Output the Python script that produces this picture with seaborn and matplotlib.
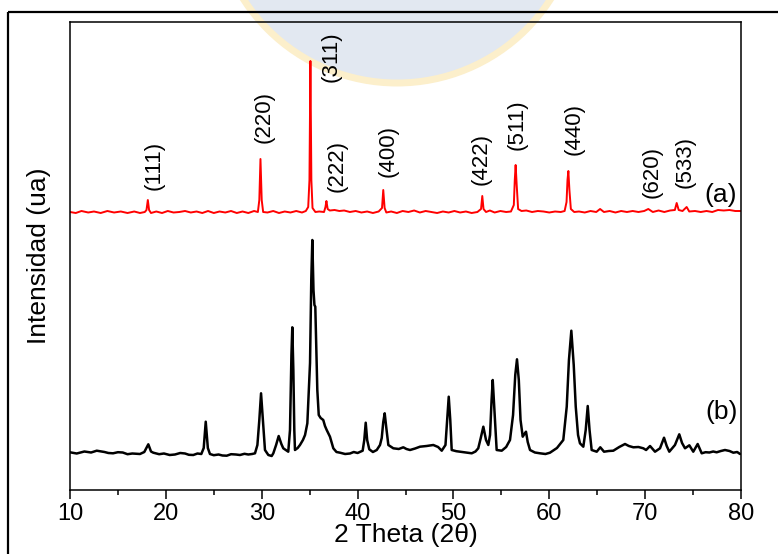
import matplotlib
matplotlib.use("Agg")
import matplotlib.pyplot as plt
from matplotlib.patches import Circle, Rectangle
import numpy as np
import pandas as pd
import seaborn as sns

# Pattern (a): 2-theta (deg) and intensity (a.u., offset upward)
two_theta_a = [10.0, 10.6, 11.2, 11.9, 12.5, 13.2, 13.9, 14.6, 15.3, 16.0, 16.7, 17.3, 17.8,
               17.98, 18.12, 18.25, 18.45, 19.0, 19.6, 20.2, 20.8, 21.4, 22.0, 22.6, 23.2,
               23.8, 24.4, 25.0, 25.6, 26.2, 26.8, 27.4, 28.0, 28.6, 29.2, 29.6, 29.75,
               29.87, 30.0, 30.15, 30.6, 31.2, 31.8, 32.4, 33.0, 33.6, 34.2, 34.6, 34.85,
               34.98, 35.08, 35.18, 35.3, 35.6, 36.0, 36.5, 36.65, 36.75, 36.88, 37.1, 37.6,
               38.1, 38.6, 39.2, 39.8, 40.4, 41.0, 41.6, 42.2, 42.55, 42.68, 42.82, 43.0,
               43.5, 44.1, 44.7, 45.3, 45.9, 46.5, 47.1, 47.7, 48.3, 48.9, 49.5, 50.1,
               50.7, 51.3, 51.9, 52.5, 52.88, 53.01, 53.14, 53.4, 53.8, 54.3, 54.9, 55.5,
               56.0, 56.3, 56.4, 56.49, 56.6, 56.75, 57.1, 57.6, 58.2, 58.8, 59.4, 60.0,
               60.6, 61.2, 61.6, 61.8, 61.9, 61.99, 62.1, 62.25, 62.6, 63.1, 63.7, 64.3,
               64.9, 65.3, 65.7, 66.3, 66.9, 67.5, 68.1, 68.7, 69.3, 69.9, 70.33, 70.8,
               71.4, 72.0, 72.6, 73.1, 73.29, 73.5, 73.9, 74.33, 74.6, 75.2, 75.8, 76.4,
               77.0, 77.6, 78.2, 78.8, 79.4, 80.0]
intensity_a = [278, 277, 279, 277.5, 278.5, 277, 279, 277.5, 278.5, 277, 278.5, 277, 278,
               280, 290, 280, 277, 278.5, 277, 279, 277.5, 278, 279, 277.5, 278.5,
               277, 279, 277, 278.5, 277.5, 279, 277, 278.5, 277, 279, 278, 290,
               331, 290, 278, 277.5, 279, 277, 278.5, 277.5, 279, 277.5, 279, 283,
               310, 429, 310, 282, 278, 278.5, 278, 283, 289, 281, 279.5, 280,
               279, 279.5, 278, 279, 277.5, 278.5, 277, 278.5, 282, 300, 282, 277.5,
               278.5, 277, 279, 278, 279.5, 277.5, 279, 278, 277, 278.5, 277.5, 279,
               277.5, 278.5, 277, 278, 281, 294, 281, 278, 279.5, 277.5, 279, 278,
               278.5, 285, 310, 325, 305, 281, 279, 279.5, 278, 279, 278.5, 277.5,
               278.5, 278, 279, 288, 310, 319, 300, 281, 278, 278.5, 277.5, 279,
               278, 281, 278, 279, 277.5, 279, 278, 279, 278, 279, 281, 278,
               279.5, 278, 279.5, 280, 287, 280, 279, 283, 278.5, 279, 278, 279,
               278, 280, 279.5, 280, 279, 279]

# Pattern (b): 2-theta (deg) and intensity (a.u.)
two_theta_b = [10.0, 10.7, 11.5, 12.2, 12.79, 13.6, 14.0, 14.49, 15.0, 15.5, 16.0, 16.5,
               17.3, 17.75, 18.17, 18.45, 18.69, 19.3, 19.8, 20.4, 20.95, 21.5, 22.0, 22.4,
               22.86, 23.3, 23.7, 23.95, 24.16, 24.38, 24.6, 25.0, 25.5, 25.9, 26.35, 26.8,
               27.3, 27.73, 28.2, 28.6, 29.0, 29.3, 29.55, 29.75, 29.93, 30.12, 30.34,
               30.69, 31.04, 31.21, 31.5, 31.77, 32.05, 32.25, 32.61, 32.77, 32.95, 33.1,
               33.19, 33.3, 33.4, 33.47, 33.75, 33.99, 34.3, 34.52, 34.76, 34.92, 35.04,
               35.17, 35.28, 35.4, 35.5, 35.59, 35.7, 35.8, 35.95, 36.15, 36.42, 36.6,
               36.78, 37.12, 37.47, 37.8, 38.17, 38.7, 39.21, 39.6, 40.0, 40.53, 40.7,
               40.85, 41.0, 41.22, 41.6, 42.0, 42.34, 42.52, 42.68, 42.83, 43.0, 43.21,
               43.73, 44.3, 44.77, 45.1, 45.47, 46.0, 46.51, 47.2, 47.9, 48.4, 48.78,
               49.17, 49.35, 49.51, 49.67, 49.82, 50.3, 50.69, 51.3, 51.91, 52.3, 52.59,
               52.85, 53.12, 53.4, 53.64, 53.82, 53.98, 54.1, 54.25, 54.51, 55.04, 55.5,
               55.9, 56.22, 56.45, 56.63, 56.82, 57.0, 57.23, 57.4, 57.57, 57.75, 57.99,
               58.5, 59.03, 59.6, 60.07, 60.8, 61.46, 61.82, 62.05, 62.3, 62.55, 62.76,
               63.0, 63.2, 63.55, 63.8, 64.01, 64.2, 64.42, 64.95, 65.32, 65.71, 66.2,
               66.68, 67.3, 67.9, 68.3, 68.77, 69.3, 69.81, 70.1, 70.51, 71.03, 71.55,
               71.97, 72.25, 72.52, 73.11, 73.56, 73.85, 74.16, 74.61, 75.02, 75.48, 75.9,
               76.3, 76.7, 77.1, 77.46, 77.9, 78.33, 78.8, 79.2, 79.6, 79.9]
intensity_b = [37.7, 36.5, 38.5, 37.5, 39.3, 38, 37, 36.7, 37.8, 37.5, 35.8, 36.5,
               36, 38, 45.7, 38.5, 37.3, 35.8, 36.5, 35, 35.5, 37, 36.5, 35.2,
               35, 36.5, 36, 42, 68.3, 42, 36, 34.8, 35.5, 34.5, 34.3, 35.8,
               35.5, 35, 36.2, 35.5, 36, 36.7, 45, 70, 96.7, 70, 40,
               35, 34, 36.7, 45, 54, 46, 41.7, 39.3, 38.3, 60, 135,
               162.7, 120, 60, 40, 42, 45, 50, 55, 66.7, 100, 127,
               210, 250, 200, 185, 183.3, 140, 100, 75, 72, 70, 64,
               60, 53.3, 41.7, 38, 37.3, 36, 36.5, 38, 37, 39.3, 50,
               67.3, 50, 40.7, 38, 40, 45, 52, 68, 76.7, 62, 45,
               41.7, 41, 42.7, 41, 40, 41.5, 43.3, 44, 45, 43, 39.3,
               45, 70, 93.3, 70, 40, 38.8, 38.3, 37.5, 36.7, 38.5, 41.7,
               52, 63.3, 50, 45, 55, 90, 110, 85, 40, 39.3, 43,
               50, 75, 115, 130.7, 110, 70, 53.3, 56, 58.3, 48, 40,
               37.5, 36.7, 36, 37.3, 42, 50, 83.3, 130, 159.3, 125, 83.3,
               55, 46.7, 43.3, 60, 84, 60, 40, 38.3, 42.7, 38.3, 39,
               39.3, 43, 46, 44, 42.7, 43, 41.7, 40, 44, 38.3, 41.7,
               52.3, 44, 38.3, 45, 55.7, 47, 41.7, 44.7, 38.3, 46, 36.7,
               37.8, 37.5, 38.5, 37.7, 39, 40, 39, 37.3, 38, 36]

# Miller indices of the reflections and where their labels sit (2-theta, intensity)
hkl_labels = ["(111)", "(220)", "(311)", "(222)", "(400)", "(422)", "(511)", "(440)", "(620)", "(533)"]
hkl_x = [18.76, 30.24, 37.23, 37.85, 43.17, 52.88, 56.63, 62.58, 70.72, 74.16]
hkl_y = [300, 347, 408, 298, 313, 305, 340, 335, 292, 302]

series_names = ["(a)", "(b)"]
series_label_x = [77.9, 78.0]
series_label_y = [295, 78]

x_ticks = [10, 20, 30, 40, 50, 60, 70, 80]

df = pd.concat([
    pd.DataFrame({"theta": two_theta_a, "I": intensity_a, "muestra": "a"}),
    pd.DataFrame({"theta": two_theta_b, "I": intensity_b, "muestra": "b"}),
], ignore_index=True)

sns.set_style("ticks")
plt.rcParams["font.family"] = ["Liberation Sans", "DejaVu Sans"]
for key in ["text.color", "axes.labelcolor", "xtick.color", "ytick.color",
            "xtick.labelcolor", "ytick.labelcolor", "axes.edgecolor"]:
    plt.rcParams[key] = "black"

W, H = 778, 554
fig = plt.figure(figsize=(W / 100, H / 100), dpi=100)

# Background layer in pixel units (origin at top-left): pale seal and outer frame
bg = fig.add_axes([0, 0, 1, 1], zorder=0)
bg.set_xlim(0, W)
bg.set_ylim(H, 0)
bg.axis("off")
bg.add_patch(Circle((397, -99.5), 182.5, facecolor="#e2e8f1", edgecolor="#fcefcb",
                    linewidth=5, zorder=1))
bg.add_patch(Rectangle((8.5, 12), W + 20, H + 20, fill=False, edgecolor="black",
                       linewidth=1.6, zorder=2))

ax = fig.add_axes([70 / W, 1 - 490 / H, 671 / W, 468 / H], zorder=2)
ax.set_facecolor("none")

sns.lineplot(data=df, x="theta", y="I", hue="muestra", palette={"a": "#ff0000", "b": "black"},
             estimator=None, sort=False, legend=False, ax=ax)
for line, lw in zip(ax.get_lines(), [1.4, 1.8]):
    line.set_linewidth(lw)

ax.set_xlim(10, 80)
ax.set_ylim(0, 468)
ax.set_xticks(x_ticks)
ax.set_xticks([t + 5 for t in x_ticks[:-1]], minor=True)
ax.set_yticks([])
ax.tick_params(axis="x", which="major", direction="out", length=6.5, width=1.1,
               labelsize=17, pad=2.5)
ax.tick_params(axis="x", which="minor", direction="out", length=3.5, width=1.1)
for sp in ax.spines.values():
    sp.set_linewidth(1.1)
    sp.set_visible(True)
    sp.set_color("black")

ax.set_xlabel("2 Theta (2θ)", fontsize=19, labelpad=-1)
ax.set_ylabel("Intensidad (ua)", fontsize=19, labelpad=14)

for lab, x, y in zip(hkl_labels, hkl_x, hkl_y):
    ax.text(x, y, lab, rotation=90, ha="center", va="bottom", fontsize=16)
for lab, x, y in zip(series_names, series_label_x, series_label_y):
    ax.text(x, y, lab, ha="center", va="center", fontsize=19)

fig.savefig("out.png", dpi=100)
